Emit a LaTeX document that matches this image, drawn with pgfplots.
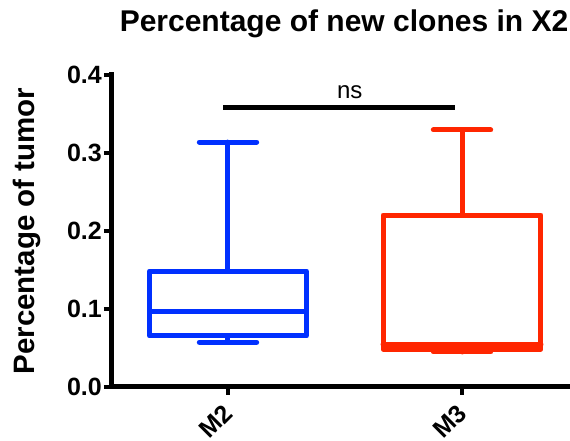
\documentclass[border=0pt]{standalone}
\usepackage{pgfplots}
\pgfplotsset{compat=1.18}
\usepgfplotslibrary{statistics}
\usepackage{fontspec}
\setmainfont{Liberation Sans}
\definecolor{boxblue}{RGB}{0,48,255}
\definecolor{boxred}{RGB}{255,38,0}
\begin{document}
\begin{tikzpicture}
\useasboundingbox (-112pt,-54pt) rectangle (458pt,387pt);
\begin{axis}[
  scale only axis, width=458pt, height=312pt,
  xmin=-0.4957, xmax=1.4615, ymin=0, ymax=0.4,
  axis x line*=bottom, axis y line*=left,
  axis line style={-, line width=5pt, line cap=rect},
  xtick={0,1}, xticklabels={M2,M3},
  ytick={0,0.1,0.2,0.3,0.4},
  tick align=outside, major tick length=8pt,
  tick style={black, line width=4pt},
  boxplot/draw direction=y,
  /pgf/number format/assume math mode=true,
  yticklabel={\pgfmathprintnumber[fixed,fixed zerofill,precision=1]{\tick}},
  yticklabel style={font=\fontsize{25}{29}\selectfont\bfseries, inner sep=1pt, xshift=-1pt},
  xticklabel style={font=\fontsize{25}{29}\selectfont\bfseries, rotate=45, anchor=north east, inner sep=1pt, xshift=-9pt, yshift=0pt},
  ylabel={Percentage of tumor},
  every axis y label/.style={at={(axis description cs:0,0.5)}, xshift=-85pt, rotate=90, anchor=center, font=\fontsize{29.5}{34}\selectfont\bfseries},
  title={Percentage of new clones in X2},
  every axis title/.style={at={(axis description cs:0.5,1)}, anchor=base, yshift=43pt, xshift=3pt, font=\fontsize{30}{34}\selectfont\bfseries},
  clip=false,
]
\addplot[draw=boxblue, line width=5pt, line cap=round, line join=round,
  boxplot prepared={draw position=0, lower whisker=0.0573, lower quartile=0.0654,
  median=0.0965, upper quartile=0.1487, upper whisker=0.314,
  box extend=0.67, whisker extend=0.245}] coordinates {};
\addplot[draw=boxred, line width=5pt, line cap=round, line join=round,
  boxplot prepared={draw position=1, lower whisker=0.0449, lower quartile=0.0487,
  median=0.0551, upper quartile=0.2205, upper whisker=0.3295,
  box extend=0.675, whisker extend=0.245}] coordinates {};
\addplot[black, line width=5pt] coordinates {(-0.02,0.358) (0.97,0.358)};
\node[font=\fontsize{24}{28}\selectfont, anchor=center] at (axis cs:0.52,0.378) {ns};
\end{axis}
\end{tikzpicture}
\end{document}
